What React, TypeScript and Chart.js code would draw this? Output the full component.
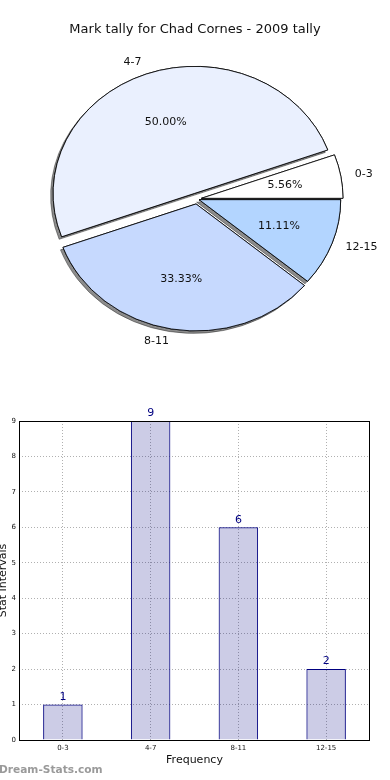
import React, { useEffect, useRef } from 'react';
import { Chart, registerables } from 'chart.js';

Chart.register(...registerables);

// ---- data ----
const categories = ['0-3', '4-7', '8-11', '12-15'];
const counts = [1, 9, 6, 2];
const yTickValues = [0, 1, 2, 3, 4, 5, 6, 7, 8, 9];

const chartTitle = 'Mark tally for Chad Cornes - 2009 tally';
const xAxisTitle = 'Frequency';
const yAxisTitle = 'Stat Intervals';
const watermark = 'Dream-Stats.com';

// ---- styles ----
const FONT = '"DejaVu Sans", "Liberation Sans", sans-serif';
const SLICE_COLORS = ['#ffffff', '#eaf0fe', '#c6d9fe', '#b3d5ff'];
const EXPLODE = [4, 6, 5, 2];
const SX = 1.115;

// pie draws clockwise from 3 o'clock, so reverse the category order
const pieOrder = categories.map((_, i) => categories.length - 1 - i);
const total = counts.reduce((a, b) => a + b, 0);

const piePlugin = {
  id: 'piePlugin',
  beforeDatasetsDraw(chart: any) {
    const ctx = chart.ctx as CanvasRenderingContext2D;
    const arcs = chart.getDatasetMeta(0).data as any[];
    if (!arcs.length) return false;
    const cx = arcs[0].x;
    const cy = arcs[0].y;
    const drawAll = (shadow: boolean) => {
      ctx.save();
      ctx.translate(cx, cy);
      ctx.scale(SX, 1);
      ctx.translate(-cx, -cy);
      if (shadow) {
        ctx.shadowColor = 'rgba(0,0,0,0.45)';
        ctx.shadowOffsetX = -2.5;
        ctx.shadowOffsetY = 2.5;
        ctx.shadowBlur = 0;
      }
      arcs.forEach((arc, i) => {
        const ci = pieOrder[i];
        const mid = (arc.startAngle + arc.endAngle) / 2;
        const d = EXPLODE[ci];
        ctx.save();
        ctx.translate(Math.cos(mid) * d, Math.sin(mid) * d);
        arc.draw(ctx);
        ctx.restore();
      });
      ctx.restore();
    };
    drawAll(true);
    drawAll(false);
    return false;
  },
  afterDraw(chart: any) {
    const ctx = chart.ctx as CanvasRenderingContext2D;
    const arcs = chart.getDatasetMeta(0).data as any[];
    ctx.save();
    ctx.fillStyle = '#111';
    ctx.textBaseline = 'middle';
    ctx.font = `13px ${FONT}`;
    ctx.textAlign = 'center';
    ctx.fillText(chartTitle, 195, 30);
    ctx.font = `11px ${FONT}`;
    arcs.forEach((arc, i) => {
      const ci = pieOrder[i];
      const cx = arc.x;
      const cy = arc.y;
      const R = arc.outerRadius;
      const mid = (arc.startAngle + arc.endAngle) / 2;
      const c = Math.cos(mid);
      const s = Math.sin(mid);
      const d = EXPLODE[ci];
      const lx = cx + (c * (d + 1.1 * R)) * SX;
      const ly = cy + s * (d + 1.1 * R);
      ctx.textAlign = c > 0 ? 'left' : 'right';
      ctx.fillText(categories[ci], lx, ly);
      const px = cx + (c * (d + 0.6 * R)) * SX;
      const py = cy + s * (d + 0.6 * R);
      ctx.textAlign = 'center';
      ctx.fillText(((counts[ci] / total) * 100).toFixed(2) + '%', px, py);
    });
    ctx.restore();
  },
};

const barPlugin = {
  id: 'barPlugin',
  afterDatasetsDraw(chart: any) {
    const ctx = chart.ctx as CanvasRenderingContext2D;
    const bars = chart.getDatasetMeta(0).data as any[];
    ctx.save();
    ctx.fillStyle = '#000080';
    ctx.font = `11px ${FONT}`;
    ctx.textAlign = 'center';
    ctx.textBaseline = 'bottom';
    bars.forEach((b, i) => {
      ctx.fillText(String(counts[i]), b.x, b.y - 2);
    });
    ctx.restore();
  },
  afterDraw(chart: any) {
    const ctx = chart.ctx as CanvasRenderingContext2D;
    const a = chart.chartArea;
    ctx.save();
    ctx.strokeStyle = '#000';
    ctx.lineWidth = 1;
    ctx.strokeRect(Math.round(a.left) + 0.5, Math.round(a.top) + 0.5, Math.round(a.right - a.left) - 1, Math.round(a.bottom - a.top));
    ctx.fillStyle = '#111';
    ctx.font = `11px ${FONT}`;
    ctx.textAlign = 'center';
    ctx.textBaseline = 'middle';
    ctx.fillText(xAxisTitle, (a.left + a.right) / 2, 370);
    ctx.save();
    ctx.translate(3, (a.top + a.bottom) / 2);
    ctx.rotate(-Math.PI / 2);
    ctx.fillText(yAxisTitle, 0, 0);
    ctx.restore();
    ctx.fillStyle = '#9a9a9a';
    ctx.font = `bold 10.6px ${FONT}`;
    ctx.textAlign = 'left';
    ctx.fillText(watermark, -1, 380);
    ctx.restore();
  },
};

export default function App() {
  const pieRef = useRef<HTMLCanvasElement>(null);
  const barRef = useRef<HTMLCanvasElement>(null);

  useEffect(() => {
    const pie = new Chart(pieRef.current as HTMLCanvasElement, {
      type: 'pie',
      data: {
        labels: pieOrder.map((i) => categories[i]),
        datasets: [
          {
            data: pieOrder.map((i) => counts[i]),
            backgroundColor: pieOrder.map((i) => SLICE_COLORS[i]),
            borderColor: '#000',
            borderWidth: 0.8,
            radius: 127,
            hoverOffset: 0,
          } as any,
        ],
      },
      options: {
        animation: false,
        responsive: false,
        maintainAspectRatio: false,
        rotation: 90,
        layout: { padding: { left: 4, right: 0, top: 8, bottom: 0 } },
        plugins: { legend: { display: false }, tooltip: { enabled: false } },
        events: [],
      } as any,
      plugins: [piePlugin as any],
    });

    const gridColor = '#b0b0b0';
    const bar = new Chart(barRef.current as HTMLCanvasElement, {
      type: 'bar',
      data: {
        labels: categories,
        datasets: [
          {
            data: counts,
            backgroundColor: 'rgba(0,0,128,0.2)',
            borderColor: '#000080',
            borderWidth: 1,
            barPercentage: 0.45,
            categoryPercentage: 1,
          },
        ],
      },
      options: {
        animation: false,
        responsive: false,
        maintainAspectRatio: false,
        events: [],
        layout: { padding: { left: 0, right: 20, top: 31, bottom: 0 } },
        plugins: { legend: { display: false }, tooltip: { enabled: false } },
        scales: {
          x: {
            offset: true,
            z: 1,
            grid: { offset: false, color: gridColor, drawTicks: false, lineWidth: 1 },
            border: { display: false, dash: [1, 2] },
            ticks: { font: { size: 7, family: FONT }, color: '#111', padding: 4, maxRotation: 0 },
            afterFit: (s: any) => {
              s.height = 40;
            },
          },
          y: {
            min: yTickValues[0],
            max: yTickValues[yTickValues.length - 1],
            z: 1,
            grid: { color: gridColor, drawTicks: false, lineWidth: 1 },
            border: { display: false, dash: [1, 2] },
            afterBuildTicks: (s: any) => {
              s.ticks = yTickValues.map((v) => ({ value: v }));
            },
            ticks: { font: { size: 7, family: FONT }, color: '#111', padding: 3 },
            afterFit: (s: any) => {
              s.width = 19;
            },
          },
        },
      } as any,
      plugins: [barPlugin as any],
    });

    return () => {
      pie.destroy();
      bar.destroy();
    };
  }, []);

  return (
    <div style={{ position: 'absolute', left: 0, top: 0, width: 390, height: 780, background: '#fff', overflow: 'hidden' }}>
      <canvas ref={pieRef} width={390} height={390} style={{ position: 'absolute', left: 0, top: 0, width: 390, height: 390 }} />
      <canvas ref={barRef} width={390} height={390} style={{ position: 'absolute', left: 0, top: 390, width: 390, height: 390 }} />
    </div>
  );
}
